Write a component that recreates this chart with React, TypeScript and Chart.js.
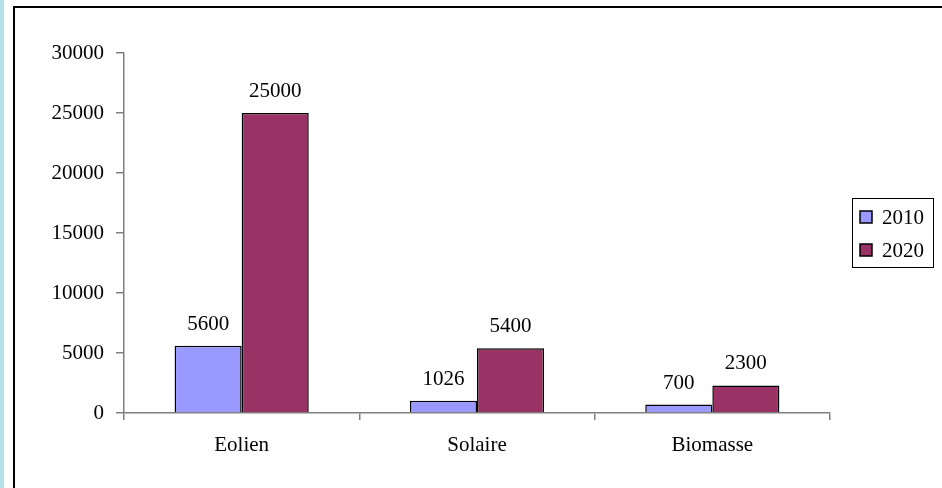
import React, { useEffect, useRef } from "react";
import { Chart, registerables } from "chart.js";

Chart.register(...registerables);

const categories = ["Eolien", "Solaire", "Biomasse"];
const series2010 = [5600, 1026, 700];
const series2020 = [25000, 5400, 2300];
const seriesLabels = ["2010", "2020"];
const seriesColors = ["#9999ff", "#993366"];
const yTicks = { min: 0, max: 30000, step: 5000 };

const FONT = "'Liberation Serif', 'Times New Roman', serif";
const FS = 21;

const valueLabels = {
  id: "valueLabels",
  afterDatasetsDraw(chart: any) {
    const ctx = chart.ctx;
    ctx.save();
    ctx.font = `${FS}px ${FONT}`;
    ctx.fillStyle = "#000";
    ctx.textAlign = "center";
    ctx.textBaseline = "bottom";
    chart.data.datasets.forEach((ds: any, i: number) => {
      const meta = chart.getDatasetMeta(i);
      meta.data.forEach((bar: any, j: number) => {
        ctx.fillText(String(ds.data[j]), bar.x, bar.y - 11);
      });
    });
    ctx.restore();
  },
};

const boxLegend = {
  id: "boxLegend",
  afterDraw(chart: any) {
    const ctx = chart.ctx;
    const x0 = 852, y0 = 198, w = 81, h = 69;
    ctx.save();
    ctx.strokeStyle = "#000";
    ctx.lineWidth = 1;
    ctx.strokeRect(x0 + 0.5, y0 + 0.5, w, h);
    ctx.font = `${FS}px ${FONT}`;
    ctx.textBaseline = "middle";
    ctx.textAlign = "left";
    chart.data.datasets.forEach((ds: any, i: number) => {
      const cy = y0 + 19 + i * 33;
      ctx.fillStyle = ds.backgroundColor;
      ctx.fillRect(x0 + 8, cy - 6, 12, 12);
      ctx.lineWidth = 1.5;
      ctx.strokeStyle = "#000";
      ctx.strokeRect(x0 + 8, cy - 6, 12, 12);
      ctx.fillStyle = "#000";
      ctx.fillText(ds.label, x0 + 30, cy + 1);
    });
    ctx.restore();
  },
};

export default function App() {
  const ref = useRef<HTMLCanvasElement>(null);
  useEffect(() => {
    document.body.style.margin = "0";
    const chart = new Chart(ref.current as HTMLCanvasElement, {
      type: "bar",
      data: {
        labels: categories,
        datasets: [
          {
            label: seriesLabels[0],
            data: series2010,
            backgroundColor: seriesColors[0],
            borderColor: "#000",
            borderWidth: 1.5,
          },
          {
            label: seriesLabels[1],
            data: series2020,
            backgroundColor: seriesColors[1],
            borderColor: "#000",
            borderWidth: 1.5,
          },
        ],
      },
      options: {
        responsive: false,
        animation: false,
        layout: { padding: { left: 0, top: 53, right: 112, bottom: 0 } },
        plugins: { legend: { display: false }, tooltip: { enabled: false } },
        datasets: { bar: { categoryPercentage: 0.57, barPercentage: 1 } },
        scales: {
          x: {
            grid: {
              offset: true,
              drawOnChartArea: false,
              color: "#808080",
              tickLength: 7,
              lineWidth: 1.5,
            },
            border: { color: "#808080", width: 1.5 },
            ticks: { color: "#000", font: { family: FONT, size: FS }, padding: 13 },
            afterFit(s: any) {
              s.height = 75;
            },
          },
          y: {
            min: yTicks.min,
            max: yTicks.max,
            grid: {
              drawOnChartArea: false,
              color: "#808080",
              tickLength: 8,
              lineWidth: 1.5,
            },
            border: { color: "#808080", width: 1.5 },
            ticks: {
              stepSize: yTicks.step,
              color: "#000",
              font: { family: FONT, size: FS },
              padding: 12,
              callback: (v: any) => String(v),
            },
            afterFit(s: any) {
              s.width = 124;
            },
          },
        },
      },
      plugins: [valueLabels, boxLegend],
    });
    return () => chart.destroy();
  }, []);

  return (
    <div style={{ position: "relative", width: 942, height: 488, background: "#fff", overflow: "hidden" }}>
      <div style={{ position: "absolute", left: 0, top: 0, width: 4, height: 488, background: "#b4e2e6" }} />
      <div
        style={{
          position: "absolute",
          left: 13,
          top: 6,
          width: 960,
          height: 520,
          border: "2px solid #000",
          boxSizing: "border-box",
        }}
      />
      <canvas ref={ref} width={942} height={488} style={{ position: "absolute", left: 0, top: 0 }} />
    </div>
  );
}
